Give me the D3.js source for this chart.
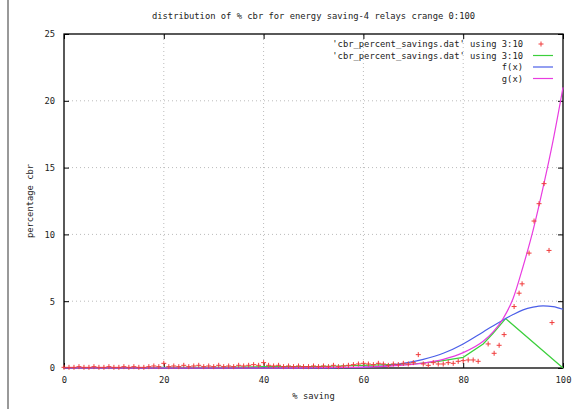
<!DOCTYPE html>
<html>
<head>
<meta charset="utf-8">
<script src="https://cdn.jsdelivr.net/npm/d3@7"></script>
<style>
  body { margin: 0; background: #fff; }
  text { font-family: "DejaVu Sans Mono", monospace; font-size: 8.8px; fill: #222; }
</style>
</head>
<body>
<div id="chart"></div>
<script>
// data
const titleText = "distribution of % cbr for energy saving-4 relays crange 0:100";
const xTicks = [0, 20, 40, 60, 80, 100];
const yTicks = [0, 5, 10, 15, 20, 25];

// scattered points ('cbr_percent_savings.dat' using 3:10)
const pointX = [0,1,2,3,4,5,6,7,8,9,10,11,12,13,14,15,16,17,18,19,
  20,21,22,23,24,25,26,27,28,29,30,31,32,33,34,35,36,37,38,39,
  40,41,42,43,44,45,46,47,48,49,50,51,52,53,54,55,56,57,58,59,
  60,61,62,63,64,65,66,67,68,69,70,
  71,72,73,74,75,76,77,78,79,80,81,82,83,85,86.2,87.2,88.2,90.2,91.2,91.8,93.2,94.2,95.2,96.2,97.2,97.8];
const pointY = [0.05,0.05,0.05,0.1,0.05,0.05,0.1,0.05,0.05,0.1,0.05,0.05,0.1,0.05,0.1,0.05,0.05,0.1,0.15,0.1,
  0.35,0.1,0.15,0.1,0.2,0.1,0.15,0.2,0.1,0.15,0.1,0.2,0.1,0.15,0.1,0.2,0.15,0.2,0.25,0.2,
  0.4,0.2,0.15,0.2,0.1,0.15,0.1,0.15,0.1,0.1,0.15,0.1,0.15,0.1,0.2,0.1,0.15,0.2,0.25,0.3,
  0.35,0.3,0.25,0.35,0.3,0.2,0.3,0.25,0.35,0.3,0.4,
  1.0,0.3,0.2,0.4,0.3,0.3,0.4,0.35,0.5,0.55,0.6,0.6,0.5,1.8,1.1,1.7,2.5,4.6,5.6,6.3,8.6,11.0,12.3,13.8,8.8,3.4];

// green line (same file, using 3:10 with lines)
const greenX = [0,10,20,30,40,50,55,60,65,70,75,80,84,86,88.5,100];
const greenY = [0,0,0.05,0.05,0.1,0.1,0.15,0.2,0.25,0.3,0.5,0.8,1.8,2.6,3.7,0];

// fitted f(x)
const fX = [0,20,40,50,55,60,64,68,72,76,80,84,88,90,92,94,96,98,100];
const fY = [0,0,0,0,0.02,0.05,0.15,0.35,0.65,1.1,1.8,2.7,3.6,4.0,4.35,4.55,4.65,4.6,4.4];

// fitted g(x)
const gX = [0,20,40,50,55,60,64,68,72,76,80,84,86,88,90,92,94,96,98,100];
const gY = [0,0,0,0.02,0.04,0.07,0.12,0.21,0.37,0.65,1.15,2.0,2.7,3.7,5.2,7.6,10.3,13.5,17.0,21.0];

const width = 582, height = 409;
const margin = { top: 34, right: 19, bottom: 41, left: 64 };

const svg = d3.select("#chart").append("svg")
  .attr("width", width)
  .attr("height", height);

// gray line on the left edge of the screenshot
svg.append("line")
  .attr("x1", 8).attr("x2", 8).attr("y1", 0).attr("y2", height)
  .attr("stroke", "#999").attr("stroke-width", 2);

const x = d3.scaleLinear().domain([0, 100]).range([margin.left, width - margin.right]);
const y = d3.scaleLinear().domain([0, 25]).range([height - margin.bottom, margin.top]);

// grid
svg.append("g").selectAll("line").data(xTicks.slice(1, -1)).enter().append("line")
  .attr("x1", d => x(d)).attr("x2", d => x(d))
  .attr("y1", y(0)).attr("y2", y(25))
  .attr("stroke", "#bbb").attr("stroke-dasharray", "1,3");
svg.append("g").selectAll("line").data(yTicks.slice(1, -1)).enter().append("line")
  .attr("x1", x(0)).attr("x2", x(100))
  .attr("y1", d => y(d)).attr("y2", d => y(d))
  .attr("stroke", "#bbb").attr("stroke-dasharray", "1,3");

// axes with inward ticks (mirrored)
function styleAxis(g) {
  g.select(".domain").remove();
  g.selectAll(".tick line").attr("stroke", "#000");
  g.selectAll(".tick text").style("font-family", "DejaVu Sans Mono, monospace").style("font-size", "8.8px").attr("fill", "#333");
}
svg.append("g").attr("transform", `translate(0,${y(0)})`)
  .call(d3.axisBottom(x).tickValues(xTicks).tickSize(-5).tickPadding(9))
  .call(styleAxis);
svg.append("g").attr("transform", `translate(0,${y(25)})`)
  .call(d3.axisTop(x).tickValues(xTicks).tickSize(-5).tickFormat(""))
  .call(styleAxis);
svg.append("g").attr("transform", `translate(${x(0)},0)`)
  .call(d3.axisLeft(y).tickValues(yTicks).tickSize(-5).tickPadding(9))
  .call(styleAxis);
svg.append("g").attr("transform", `translate(${x(100)},0)`)
  .call(d3.axisRight(y).tickValues(yTicks).tickSize(-5).tickFormat(""))
  .call(styleAxis);

// frame
svg.append("rect")
  .attr("x", x(0)).attr("y", y(25))
  .attr("width", x(100) - x(0)).attr("height", y(0) - y(25))
  .attr("fill", "none").attr("stroke", "#000").attr("stroke-width", 1.3);

const straight = d3.line().x(d => x(d[0])).y(d => y(d[1]));
const smooth = d3.line().x(d => x(d[0])).y(d => y(d[1])).curve(d3.curveMonotoneX);

const series = [
  { xs: greenX, ys: greenY, color: "#3ccf3c", gen: straight },
  { xs: fX, ys: fY, color: "#4a5ee8", gen: smooth },
  { xs: gX, ys: gY, color: "#e83ce0", gen: smooth }
];
series.forEach(s => {
  svg.append("path")
    .datum(d3.zip(s.xs, s.ys))
    .attr("d", s.gen)
    .attr("fill", "none")
    .attr("stroke", s.color)
    .attr("stroke-width", 1.2);
});

// points as "+" markers
svg.append("g").selectAll("path").data(d3.zip(pointX, pointY)).enter().append("path")
  .attr("d", d => `M${x(d[0]) - 2.5},${y(d[1])}h5M${x(d[0])},${y(d[1]) - 2.5}v5`)
  .attr("stroke", "#f03c3c").attr("stroke-width", 1);

// title and axis labels
svg.append("text").attr("x", (x(0) + x(100)) / 2).attr("y", 19)
  .attr("text-anchor", "middle").text(titleText);
svg.append("text").attr("x", (x(0) + x(100)) / 2).attr("y", 399)
  .attr("text-anchor", "middle").text("% saving");
svg.append("text").attr("transform", `translate(33,${(y(0) + y(25)) / 2}) rotate(-90)`)
  .attr("text-anchor", "middle").text("percentage cbr");

// legend
const legendLabels = ["'cbr_percent_savings.dat' using 3:10", "'cbr_percent_savings.dat' using 3:10", "f(x)", "g(x)"];
const legendColors = ["#f03c3c", "#3ccf3c", "#4a5ee8", "#e83ce0"];
const legendY = [44, 55.5, 67, 78.5];
legendLabels.forEach((lab, i) => {
  svg.append("text").attr("x", 523).attr("y", legendY[i] + 3)
    .attr("text-anchor", "end").text(lab);
  if (i === 0) {
    svg.append("path")
      .attr("d", `M${541},${legendY[i] - 2.5}v5M${538.5},${legendY[i]}h5`)
      .attr("stroke", legendColors[i]);
  } else {
    svg.append("line")
      .attr("x1", 533).attr("x2", 553)
      .attr("y1", legendY[i]).attr("y2", legendY[i])
      .attr("stroke", legendColors[i]).attr("stroke-width", 1.2);
  }
});
</script>
</body>
</html>
